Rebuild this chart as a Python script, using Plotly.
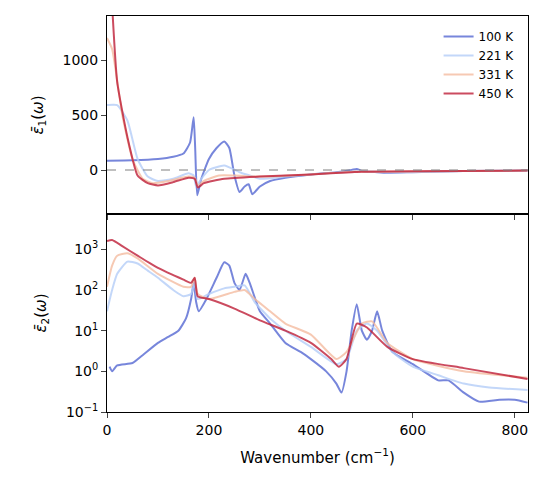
import plotly.graph_objects as go
from plotly.subplots import make_subplots

# real part, eps1 (x, y pairs per temperature)
x1_100 = [0, 50, 100, 130, 150, 163, 170, 173, 177, 185, 200, 215, 230, 240, 250, 260, 270, 278, 285, 300, 320, 350, 400, 450, 480, 490, 500, 530, 550, 600, 700, 825]
e1_100 = [85, 88, 100, 120, 150, 250, 480, 200, -230, -80, 100, 200, 260, 200, -50, -200, -150, -130, -220, -150, -100, -70, -40, -20, 0, 10, -10, -20, -25, -20, -10, -5]
x1_221 = [0, 20, 40, 60, 80, 100, 130, 160, 170, 175, 185, 200, 230, 260, 280, 300, 350, 400, 480, 500, 550, 700, 825]
e1_221 = [590, 590, 450, 100, -60, -100, -80, -30, -50, -150, -80, 0, 40, -20, -50, -80, -60, -40, -15, -10, -20, -10, -5]
x1_331 = [0, 10, 30, 50, 70, 90, 120, 160, 172, 178, 190, 220, 250, 300, 400, 480, 520, 700, 825]
e1_331 = [1200, 1100, 500, 100, -80, -120, -100, -60, -70, -140, -100, -50, -50, -60, -40, -15, -15, -10, -5]
x1_450 = [0, 10, 20, 40, 60, 80, 100, 130, 160, 172, 178, 190, 230, 300, 400, 480, 500, 700, 825]
e1_450 = [2500, 1500, 800, 300, -50, -120, -140, -110, -70, -80, -160, -120, -80, -60, -40, -20, -15, -10, -5]

# imaginary part, eps2
x2_100 = [5, 10, 20, 50, 70, 100, 120, 140, 155, 165, 170, 175, 180, 195, 215, 230, 240, 250, 260, 272, 280, 300, 320, 350, 380, 400, 430, 450, 460, 470, 480, 490, 500, 510, 520, 530, 540, 560, 600, 650, 670, 700, 730, 770, 800, 825]
e2_100 = [1.3, 1.0, 1.4, 1.6, 2.5, 5, 7, 10, 20, 60, 150, 50, 30, 60, 200, 480, 400, 150, 100, 250, 150, 30, 15, 5, 3, 2, 1, 0.5, 0.3, 1, 10, 45, 10, 6, 10, 30, 10, 3, 1.5, 0.6, 0.6, 0.3, 0.18, 0.2, 0.2, 0.17]
x2_221 = [0, 10, 20, 40, 60, 80, 100, 130, 150, 165, 172, 178, 200, 230, 250, 270, 290, 320, 350, 400, 450, 470, 490, 510, 530, 560, 600, 650, 700, 750, 825]
e2_221 = [30, 100, 250, 500, 450, 300, 200, 100, 70, 80, 150, 60, 80, 110, 120, 130, 50, 20, 10, 4, 1.5, 2, 10, 15, 10, 3, 1.3, 0.8, 0.5, 0.4, 0.35]
x2_331 = [0, 10, 20, 40, 60, 100, 150, 165, 172, 178, 200, 250, 270, 290, 320, 350, 400, 450, 470, 500, 520, 550, 600, 700, 825]
e2_331 = [120, 400, 700, 800, 600, 250, 120, 120, 200, 80, 60, 90, 100, 60, 30, 15, 8, 2, 3, 15, 17, 5, 2, 1, 0.7]
x2_450 = [0, 10, 30, 60, 100, 150, 165, 172, 178, 200, 250, 300, 350, 400, 440, 455, 470, 490, 510, 550, 600, 700, 825]
e2_450 = [1600, 1700, 1200, 700, 350, 180, 150, 200, 70, 60, 35, 18, 10, 5, 2, 1.3, 2, 15, 12, 4, 2, 1.2, 0.65]

labels = ["100 K", "221 K", "331 K", "450 K"]
colors = ["rgba(85,104,210,0.8)", "rgba(180,205,248,0.8)", "rgba(244,187,160,0.8)", "rgba(190,30,55,0.8)"]

fig = make_subplots(rows=2, cols=1, shared_xaxes=True, vertical_spacing=0)

top = [(x1_100, e1_100), (x1_221, e1_221), (x1_331, e1_331), (x1_450, e1_450)]
bot = [(x2_100, e2_100), (x2_221, e2_221), (x2_331, e2_331), (x2_450, e2_450)]
for i in range(4):
    fig.add_trace(go.Scatter(x=top[i][0], y=top[i][1], mode="lines", name=labels[i],
                             line=dict(color=colors[i], width=2, shape="spline", smoothing=0.5)), row=1, col=1)
for i in range(4):
    fig.add_trace(go.Scatter(x=bot[i][0], y=bot[i][1], mode="lines", showlegend=False,
                             line=dict(color=colors[i], width=2, shape="spline", smoothing=0.5)), row=2, col=1)

fig.add_shape(type="line", xref="x", yref="y", x0=0, x1=826, y0=0, y1=0,
              line=dict(color="gray", width=1, dash="dash"))

axis_style = dict(showline=True, linecolor="black", linewidth=1, mirror=True, ticks="outside",
                  showgrid=False, zeroline=False, automargin=False,
                  tickfont=dict(size=14, color="black"))
fig.update_xaxes(range=[0, 826], **axis_style)
fig.update_xaxes(tickvals=[0, 200, 400, 600, 800], row=2, col=1,
                 title=dict(text="Wavenumber (cm<sup>−1</sup>)", font=dict(size=15, color="black")))
fig.update_yaxes(range=[-400, 1400], tickvals=[0, 500, 1000], row=1, col=1,
                 title=dict(text="<i>ε̄</i><sub>1</sub>(<i>ω</i>)", font=dict(size=15, color="black")), **axis_style)
fig.update_yaxes(type="log", range=[-1, 3.87], row=2, col=1,
                 tickvals=[0.1, 1, 10, 100, 1000],
                 ticktext=["10<sup>−1</sup>", "10<sup>0</sup>", "10<sup>1</sup>", "10<sup>2</sup>", "10<sup>3</sup>"],
                 title=dict(text="<i>ε̄</i><sub>2</sub>(<i>ω</i>)", font=dict(size=15, color="black")), **axis_style)

fig.update_layout(
    width=546, height=490,
    margin=dict(l=99, r=26, t=8, b=86),
    plot_bgcolor="white", paper_bgcolor="white",
    font=dict(family="DejaVu Sans", color="black"),
    legend=dict(x=0.98, y=0.985, xanchor="right", yanchor="top", bgcolor="rgba(0,0,0,0)",
                font=dict(size=12)),
)

fig.write_html("out.html")
